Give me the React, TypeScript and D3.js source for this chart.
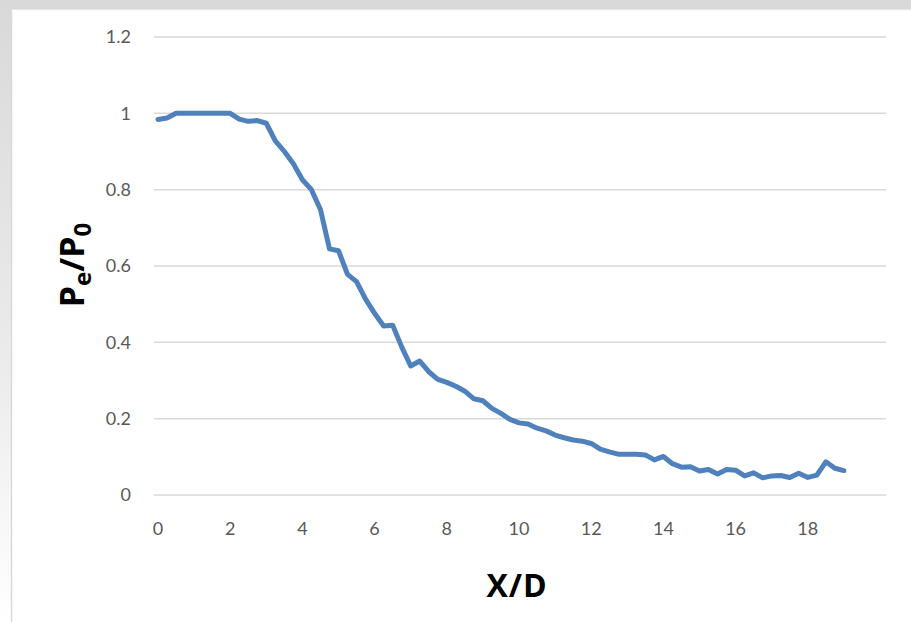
import React from "react";
import * as d3 from "d3";

const xValues = [
  0, 0.25, 0.5, 0.75, 1, 1.25, 1.5, 1.75, 2, 2.25, 2.5, 2.75, 3, 3.25, 3.5, 3.75,
  4, 4.25, 4.5, 4.75, 5, 5.25, 5.5, 5.75, 6, 6.25, 6.5, 6.75, 7, 7.25, 7.5, 7.75,
  8, 8.25, 8.5, 8.75, 9, 9.25, 9.5, 9.75, 10, 10.25, 10.5, 10.75, 11, 11.25, 11.5, 11.75,
  12, 12.25, 12.5, 12.75, 13, 13.25, 13.5, 13.75, 14, 14.25, 14.5, 14.75, 15, 15.25, 15.5, 15.75,
  16, 16.25, 16.5, 16.75, 17, 17.25, 17.5, 17.75, 18, 18.25, 18.5, 18.75, 19,
];
const peRatio = [
  0.984, 0.988, 1.0, 1.0, 1.0, 1.0, 1.0, 1.0, 1.0, 0.985, 0.979, 0.981, 0.974, 0.928, 0.9, 0.868,
  0.826, 0.8, 0.748, 0.645, 0.64, 0.578, 0.559, 0.513, 0.476, 0.443, 0.445, 0.388, 0.338, 0.351, 0.323, 0.303,
  0.295, 0.285, 0.272, 0.252, 0.247, 0.227, 0.214, 0.198, 0.189, 0.186, 0.175, 0.168, 0.157, 0.15, 0.144, 0.141,
  0.135, 0.12, 0.113, 0.107, 0.107, 0.107, 0.105, 0.092, 0.101, 0.082, 0.073, 0.074, 0.063, 0.067, 0.055, 0.067,
  0.065, 0.05, 0.058, 0.045, 0.05, 0.051, 0.046, 0.057, 0.046, 0.052, 0.087, 0.07, 0.064,
];
const xTicks = [0, 2, 4, 6, 8, 10, 12, 14, 16, 18];
const yTicks = [0, 0.2, 0.4, 0.6, 0.8, 1, 1.2];

const W = 911;
const H = 622;

export default function App() {
  const x = d3.scaleLinear().domain([0, 20]).range([158, 880]);
  const y = d3.scaleLinear().domain([0, 1.2]).range([495, 37]);
  const pts: [number, number][] = xValues.map((v, i) => [v, peRatio[i]]);
  const line = d3
    .line<[number, number]>()
    .x((d) => x(d[0]))
    .y((d) => y(d[1]));
  const tickFont = "Lato, 'Open Sans', sans-serif";
  return (
    <svg
      width={W}
      height={H}
      style={{ position: "absolute", left: 0, top: 0, display: "block" }}
      xmlns="http://www.w3.org/2000/svg"
    >
      <defs>
        <linearGradient id="leftFade" x1="0" y1="0" x2="0" y2="1">
          <stop offset="0" stopColor="#d9d9d9" />
          <stop offset="0.6" stopColor="#ececec" />
          <stop offset="1" stopColor="#ffffff" />
        </linearGradient>
      </defs>
      <rect x={0} y={0} width={W} height={H} fill="#ffffff" />
      <rect x={0} y={0} width={W} height={9} fill="#d9d9d9" />
      <rect x={0} y={0} width={11} height={H} fill="url(#leftFade)" />
      <line x1={11.5} x2={11.5} y1={9} y2={H} stroke="#d9d9d9" strokeWidth={1.5} />
      <line x1={11} x2={W} y1={9.5} y2={9.5} stroke="#e6e6e6" strokeWidth={1} />

      {yTicks.map((t) => (
        <g key={t}>
          <line
            x1={154}
            x2={886}
            y1={y(t)}
            y2={y(t)}
            stroke="#d9d9d9"
            strokeWidth={1.5}
          />
          <text
            x={131}
            y={y(t)}
            dy="0.35em"
            textAnchor="end"
            fontFamily={tickFont}
            fontSize={18}
            fill="#595959"
          >
            {d3.format("~g")(t)}
          </text>
        </g>
      ))}

      {xTicks.map((t) => (
        <text
          key={t}
          x={x(t)}
          y={535}
          textAnchor="middle"
          fontFamily={tickFont}
          fontSize={18}
          fill="#595959"
        >
          {t}
        </text>
      ))}

      <path
        d={line(pts) || ""}
        fill="none"
        stroke="#4f81bd"
        strokeWidth={5}
        strokeLinejoin="round"
        strokeLinecap="round"
      />

      <text
        x={517}
        y={597}
        textAnchor="middle"
        fontFamily="'Open Sans', sans-serif"
        fontWeight={700}
        fontSize={32}
        letterSpacing={1}
        fill="#000000"
      >
        X/D
      </text>

      <text
        transform="translate(84,265) rotate(-90)"
        textAnchor="middle"
        fontFamily="'Open Sans', sans-serif"
        fontWeight={700}
        fontSize={34}
        fill="#000000"
      >
        P<tspan fontSize={24} dy={7}>e</tspan>
        <tspan dy={-7}>/P</tspan>
        <tspan fontSize={24} dy={7}>0</tspan>
      </text>
    </svg>
  );
}
